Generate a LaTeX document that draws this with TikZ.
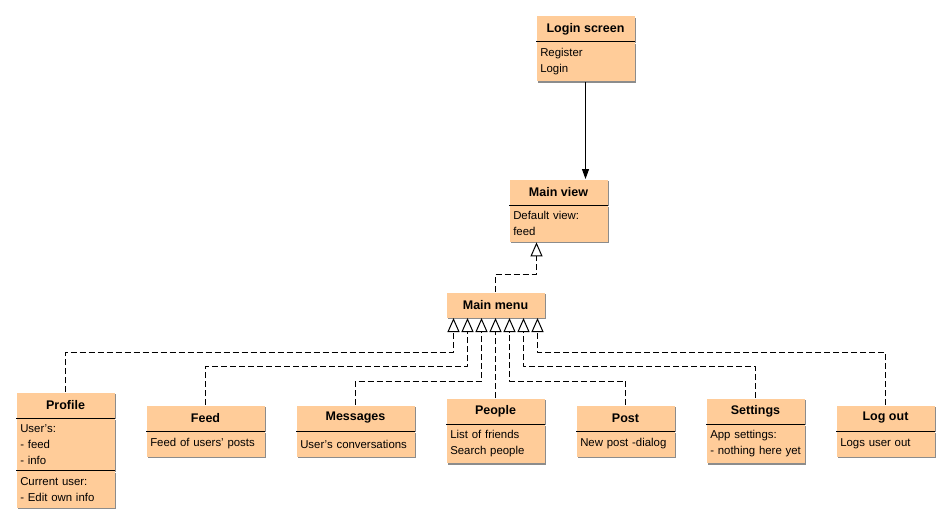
\documentclass[tikz,border=0pt]{standalone}
\usepackage{fontspec}
\setmainfont{Liberation Sans}
\usetikzlibrary{arrows.meta,shadows}
\definecolor{boxfill}{RGB}{255,204,153}
\definecolor{boxshadow}{RGB}{140,140,140}

\begin{document}
\begin{tikzpicture}[x=1pt, y=-1pt, line join=round, line width=1pt, >={Triangle[width=7pt,length=10pt]},
	shadowed/.style={drop shadow={opacity=1, fill=boxshadow, shadow xshift=1.5pt, shadow yshift=-1.5pt}},
	ttl/.style={shadowed, fill=boxfill, anchor=north west, minimum width=98pt, minimum height=25pt, inner sep=0pt, font=\fontsize{12.5}{14}\selectfont\bfseries},
	bdy/.style={shadowed, fill=boxfill, anchor=north west, text width=90.5pt, inner xsep=3.75pt, inner ysep=6pt, align=left, minimum height=25pt, font=\fontsize{11.4}{16}\selectfont},
	widettl/.style={ttl, minimum width=118pt},
	widebdy/.style={bdy, text width=110.5pt},
	gen/.style={dash pattern=on 6pt off 3pt, -{Triangle[open, width=12pt, length=14pt]}}]
	\useasboundingbox (0,0) rectangle (950,527);
	% top of the hierarchy
	\node[ttl] (login) at (536,16) {Login screen};
	\node[bdy] (login-b) at (login.south west) {Register\\Login};
	\node[ttl] (view) at (509,179) {Main view};
	\node[bdy] (view-b) at (view.south west) {Default view:\\feed};
	\node[ttl] (menu) at (446,292) {Main menu};
	% menu entries
	\node[ttl] (profile) at (16,392) {Profile};
	\node[bdy] (profile-b) at (profile.south west) {User's:\\- feed\\- info};
	\node[bdy] (profile-c) at (profile-b.south west) {Current user:\\- Edit own info};
	\node[widettl] (feed) at (146,405) {Feed};
	\node[widebdy] (feed-b) at (feed.south west) {Feed of users' posts};
	\node[widettl] (msg) at (296,405) {Messages};
	\node[widebdy] (msg-b) at (msg.south west) {User's conversations};
	\node[ttl] (people) at (446,398) {People};
	\node[bdy] (people-b) at (people.south west) {List of friends\\Search people};
	\node[ttl] (post) at (576,405) {Post};
	\node[bdy] (post-b) at (post.south west) {New post -dialog};
	\node[ttl] (set) at (706,398) {Settings};
	\node[bdy] (set-b) at (set.south west) {App settings:\\\mbox{- nothing here yet}};
	\node[ttl] (out) at (836,405) {Log out};
	\node[bdy] (out-b) at (out.south west) {Logs user out};
	% compartment lines
	\foreach \n in {login-b,view-b,profile-b,profile-c,feed-b,msg-b,people-b,post-b,set-b,out-b}
		\draw (\n.north west) -- (\n.north east);
	% connectors
	\draw[->] (login-b.south) -- (login-b.south |- view.north);
	\draw[gen] (menu.north) -- ++(0,-18) -| ([xshift=-22pt]view-b.south);
	\draw[gen] (profile.north) -- ++(0,-40) -| ([xshift=-42pt]menu.south);
	\draw[gen] (feed.north) -- ++(0,-38.5) -| ([xshift=-28pt]menu.south);
	\draw[gen] (msg.north) -- ++(0,-24) -| ([xshift=-14pt]menu.south);
	\draw[gen] (people.north) -- (menu.south);
	\draw[gen] (post.north) -- ++(0,-24) -| ([xshift=14pt]menu.south);
	\draw[gen] (set.north) -- ++(0,-31.5) -| ([xshift=28pt]menu.south);
	\draw[gen] (out.north) -- ++(0,-52.5) -| ([xshift=42pt]menu.south);
\end{tikzpicture}
\end{document}
